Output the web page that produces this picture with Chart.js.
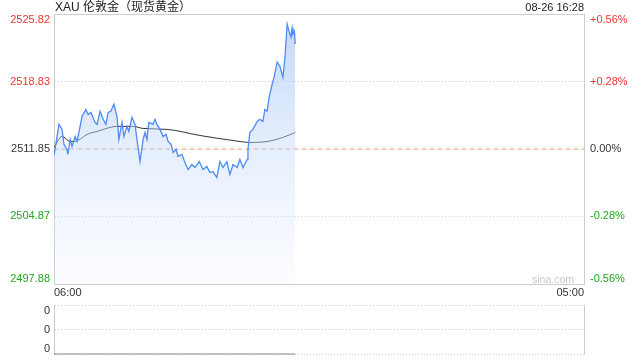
<!DOCTYPE html>
<html>
<head>
<meta charset="utf-8">
<script src="https://cdn.jsdelivr.net/npm/chart.js@4/dist/chart.umd.min.js"></script>
<style>
html,body{margin:0;padding:0;background:#fff;}
#wrap{position:relative;width:640px;height:360px;overflow:hidden;font-family:"Liberation Sans",Arial,sans-serif;}
canvas{position:absolute;left:0;}
#main{top:0;}
#vol{top:300px;}
.txt{position:absolute;white-space:nowrap;}
#title{left:55px;top:0;font-size:12px;line-height:15px;color:#222;font-family:"Liberation Sans","Noto Sans CJK SC",sans-serif;}
#time{right:56px;top:0;font-size:11px;line-height:15px;color:#222;}
#mark{left:532px;top:272px;font-size:10.5px;line-height:14px;color:#c8c8c8;}
</style>
</head>
<body>
<div id="wrap">
  <canvas id="main" width="640" height="300"></canvas>
  <canvas id="vol" width="640" height="60"></canvas>
  <div class="txt" id="title">XAU 伦敦金（现货黄金）</div>
  <div class="txt" id="time">08-26 16:28</div>
  <div class="txt" id="mark">sina.com</div>
</div>
<script>
// 分时：距 06:00 的分钟数 + 价格
const minutes = [0,13,21,26,34,36,42,47,55,60,65,73,83,89,96,107,112,120,128,135,141,148,156,164,169,177,182,190,195,203,211,216,224,232,237,242,247,258,263,268,276,284,292,297,305,310,318,323,333,341,349,359,367,378,388,398,406,414,424,432,440,450,458,466,477,484,492,503,505,510,518,529,536,544,549,555,560,568,573,581,588,596,601,607,612,617,620,622,626,628];
const prices = [2511.20,2514.40,2513.88,2512.32,2511.80,2511.28,2512.84,2512.11,2513.15,2512.63,2513.56,2515.23,2515.95,2515.43,2515.64,2514.60,2514.40,2515.75,2514.92,2514.40,2515.64,2515.75,2516.47,2515.23,2512.84,2514.60,2513.15,2514.19,2513.67,2515.12,2514.40,2512.84,2510.55,2512.84,2513.56,2512.84,2514.60,2514.40,2514.92,2514.40,2513.88,2513.15,2513.36,2512.63,2512.32,2511.49,2511.80,2511.07,2511.28,2510.45,2509.72,2510.24,2509.93,2510.55,2509.72,2510.03,2509.41,2509.51,2508.89,2510.55,2509.93,2510.55,2509.20,2510.24,2509.93,2510.76,2509.93,2510.76,2511.80,2513.56,2513.88,2514.71,2514.92,2514.71,2515.95,2515.75,2517.20,2518.55,2519.28,2520.83,2520.42,2519.28,2521.15,2524.78,2524.05,2523.43,2524.37,2523.74,2524.05,2522.70];

// 均价线
const maMinutes = [0,21,42,62,86,112,164,206,232,294,380,466,510,555,596,628];
const maPrices = [2512.01,2513.15,2512.63,2512.73,2513.36,2513.67,2514.19,2514.19,2513.98,2513.88,2513.25,2512.73,2512.53,2512.63,2513.05,2513.56];

// 成交量（全为 0）
const volMinutes = [0,628];
const volValues = [0,0];

const basePrice = 2511.85;
const priceTicks = [2497.88,2504.87,2511.85,2518.83,2525.82];
const timeTicks = [0,1380];
const timeLabels = ['06:00','05:00'];
const volTicks = [0,0.5,1];
const volLabels = ['0','0','0'];

const UP = '#f23333', DOWN = '#22a722', FLAT = '#333';
const FONT = {family:'"Liberation Sans", Arial, sans-serif', size:11, lineHeight:1};

function edgeLabel(text, i, n){
  if(i===0) return [text,''];
  if(i===n-1) return ['',text];
  return text;
}
function priceColor(v){
  if(v>basePrice+1e-6) return UP;
  if(v<basePrice-1e-6) return DOWN;
  return FLAT;
}
function pctText(v){
  const p = (v-basePrice)/basePrice*100;
  if(Math.abs(p)<0.001) return '0.00%';
  return (p>0?'+':'')+p.toFixed(2)+'%';
}
function fitY(w){
  return s=>{ s.width=w; s.paddingTop=0; s.paddingBottom=0; };
}
function areaFill(c){
  const a = c.chart.chartArea;
  if(!a) return 'rgba(200,220,250,0.4)';
  const g = c.chart.ctx.createLinearGradient(0,a.top,0,a.bottom);
  g.addColorStop(0,'rgba(165,196,245,0.7)');
  g.addColorStop(1,'rgba(225,236,253,0.15)');
  return g;
}

new Chart(document.getElementById('main'), {
  type:'line',
  data:{datasets:[
    {data:minutes.map((m,i)=>({x:m,y:prices[i]})), borderColor:'#4d8cf0', borderWidth:1.3,
     pointRadius:0, tension:0, fill:'start', backgroundColor:areaFill},
    {data:maMinutes.map((m,i)=>({x:m,y:maPrices[i]})), borderColor:'#333', borderWidth:1,
     pointRadius:0, cubicInterpolationMode:'monotone', fill:false},
    {data:[{x:timeTicks[0],y:basePrice},{x:timeTicks[1],y:basePrice}], borderColor:'#f0a070',
     borderWidth:1, borderDash:[4,4], pointRadius:0, fill:false}
  ]},
  options:{
    responsive:false, animation:false, devicePixelRatio:1,
    layout:{padding:{top:14,left:0,right:0,bottom:0}},
    plugins:{legend:{display:false}, tooltip:{enabled:false}},
    scales:{
      x:{type:'linear', min:0, max:1380,
        afterBuildTicks:s=>{s.ticks=timeTicks.map(v=>({value:v}));},
        afterFit:s=>{s.height=16; s.paddingLeft=0; s.paddingRight=0;},
        grid:{display:false, drawTicks:false},
        border:{display:true, color:'#ccc'},
        ticks:{autoSkip:false, maxRotation:0, align:'inner', padding:3, color:'#333', font:FONT,
          callback:(v,i)=>timeLabels[i]}},
      y:{position:'left', min:priceTicks[0], max:priceTicks[4],
        afterBuildTicks:s=>{s.ticks=priceTicks.map(v=>({value:v}));},
        afterFit:fitY(54),
        grid:{drawTicks:false, color:'#cfcfcf'},
        border:{display:true, color:'#ccc', dash:c=>(c.tick && c.index>0 && c.index<4)?[1,2]:[]},
        ticks:{autoSkip:false, padding:4, font:FONT, color:c=>priceColor(c.tick.value),
          callback:(v,i)=>edgeLabel(v.toFixed(2), i, priceTicks.length)}},
      y2:{position:'right', min:priceTicks[0], max:priceTicks[4],
        afterBuildTicks:s=>{s.ticks=priceTicks.map(v=>({value:v}));},
        afterFit:fitY(56),
        grid:{display:false, drawTicks:false},
        border:{display:true, color:'#ccc'},
        ticks:{autoSkip:false, padding:6, font:FONT, color:c=>priceColor(c.tick.value),
          callback:(v,i)=>edgeLabel(pctText(v), i, priceTicks.length)}}
    }
  }
});

new Chart(document.getElementById('vol'), {
  type:'line',
  data:{datasets:[
    {data:volMinutes.map((m,i)=>({x:m,y:volValues[i]})), borderColor:'#8a8a8a', borderWidth:1,
     pointRadius:0, fill:false, clip:4}
  ]},
  options:{
    responsive:false, animation:false, devicePixelRatio:1,
    layout:{padding:{top:5,left:0,right:0,bottom:6}},
    plugins:{legend:{display:false}, tooltip:{enabled:false}},
    scales:{
      x:{type:'linear', min:0, max:1380, display:false},
      y:{position:'left', min:0, max:1,
        afterBuildTicks:s=>{s.ticks=volTicks.map(v=>({value:v}));},
        afterFit:fitY(54),
        grid:{drawTicks:false, color:'#cfcfcf'},
        border:{display:true, color:'#ccc', dash:c=>c.tick?[1,2]:[]},
        ticks:{autoSkip:false, padding:4, font:FONT, color:'#333',
          callback:(v,i)=>edgeLabel(volLabels[i], i, volLabels.length)}},
      y2:{position:'right', min:0, max:1,
        afterFit:fitY(56),
        grid:{display:false, drawTicks:false},
        border:{display:true, color:'#ccc'},
        ticks:{display:false}}
    }
  }
});
</script>
</body>
</html>
